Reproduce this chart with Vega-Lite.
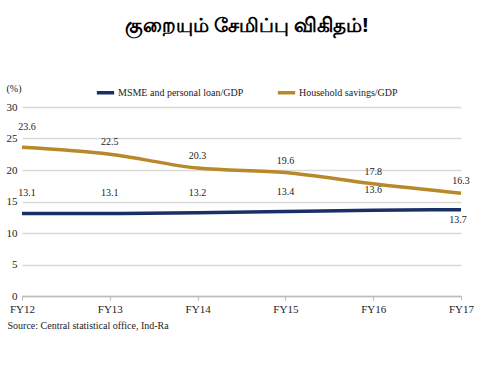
{
  "$schema": "https://vega.github.io/schema/vega-lite/v6.json",
  "width": 439,
  "height": 189,
  "autosize": {"type": "none"},
  "padding": {"left": 22, "top": 107, "right": 39, "bottom": 72},
  "background": "white",
  "title": {
    "text": "குறையும் சேமிப்பு விகிதம்!",
    "fontSize": 20,
    "fontWeight": "bold",
    "font": "Noto Sans",
    "color": "black",
    "anchor": "middle",
    "frame": "group",
    "offset": 46,
    "dx": 5
  },
  "config": {
    "view": {"stroke": null},
    "font": "Liberation Serif"
  },
  "data": {
    "values": [
      {"year": "FY12", "series": "MSME and personal loan/GDP", "value": 13.1},
      {"year": "FY13", "series": "MSME and personal loan/GDP", "value": 13.1},
      {"year": "FY14", "series": "MSME and personal loan/GDP", "value": 13.2},
      {"year": "FY15", "series": "MSME and personal loan/GDP", "value": 13.4},
      {"year": "FY16", "series": "MSME and personal loan/GDP", "value": 13.6},
      {"year": "FY17", "series": "MSME and personal loan/GDP", "value": 13.7},
      {"year": "FY12", "series": "Household savings/GDP", "value": 23.6},
      {"year": "FY13", "series": "Household savings/GDP", "value": 22.5},
      {"year": "FY14", "series": "Household savings/GDP", "value": 20.3},
      {"year": "FY15", "series": "Household savings/GDP", "value": 19.6},
      {"year": "FY16", "series": "Household savings/GDP", "value": 17.8},
      {"year": "FY17", "series": "Household savings/GDP", "value": 16.3}
    ]
  },
  "encoding": {
    "x": {
      "field": "year",
      "type": "ordinal",
      "scale": {"type": "point", "padding": 0},
      "axis": {
        "labelAngle": 0,
        "labelFont": "Liberation Serif",
        "labelFontSize": 11,
        "labelColor": "#222",
        "labelPadding": 3,
        "tickSize": 4,
        "tickColor": "#bbbbbb",
        "domainColor": "#bbbbbb",
        "domainWidth": 1.5,
        "grid": false,
        "title": "Source: Central statistical office, Ind-Ra",
        "titleFont": "Liberation Serif",
        "titleFontWeight": "normal",
        "titleFontSize": 10,
        "titleColor": "#222",
        "titleAlign": "left",
        "titleAnchor": "start",
        "titleBaseline": "middle",
        "titleX": -15,
        "titleY": 29
      }
    },
    "y": {
      "field": "value",
      "type": "quantitative",
      "scale": {"domain": [0, 30]},
      "axis": {
        "values": [0, 5, 10, 15, 20, 25, 30],
        "labelFont": "Liberation Serif",
        "labelFontSize": 11,
        "labelColor": "#222",
        "labelPadding": 5,
        "ticks": false,
        "domain": false,
        "gridColor": "#d9d9d9",
        "gridWidth": 1.5,
        "title": "(%)",
        "titleFont": "Liberation Serif",
        "titleFontWeight": "normal",
        "titleFontSize": 10,
        "titleColor": "#222",
        "titleAngle": 0,
        "titleAlign": "left",
        "titleBaseline": "middle",
        "titleX": -16,
        "titleY": -19
      }
    },
    "color": {
      "field": "series",
      "type": "nominal",
      "scale": {
        "domain": ["MSME and personal loan/GDP", "Household savings/GDP"],
        "range": ["#1a2f66", "#b7892a"]
      },
      "legend": {
        "title": null,
        "orient": "none",
        "legendX": 73,
        "legendY": -25,
        "direction": "horizontal",
        "symbolType": "stroke",
        "symbolStrokeWidth": 3.5,
        "symbolSize": 300,
        "labelFont": "Liberation Serif",
        "labelFontSize": 10,
        "labelColor": "#222",
        "labelLimit": 300,
        "columnPadding": 26,
        "labelOffset": 2
      }
    }
  },
  "layer": [
    {"mark": {"type": "line", "interpolate": "monotone", "strokeWidth": 3.5}},
    {
      "transform": [{"filter": "datum.series == 'Household savings/GDP' && datum.year != 'FY12'"}],
      "mark": {"type": "text", "dy": -12, "fontSize": 10, "font": "Liberation Serif"},
      "encoding": {
        "text": {"field": "value", "type": "quantitative", "format": ".1f"},
        "color": {"value": "#222"}
      }
    },
    {
      "transform": [{"filter": "datum.year == 'FY12'"}],
      "mark": {"type": "text", "dy": -20, "dx": 5, "fontSize": 10, "font": "Liberation Serif"},
      "encoding": {
        "text": {"field": "value", "type": "quantitative", "format": ".1f"},
        "color": {"value": "#222"}
      }
    },
    {
      "transform": [{"filter": "datum.series == 'MSME and personal loan/GDP' && datum.year != 'FY17' && datum.year != 'FY12'"}],
      "mark": {"type": "text", "dy": -20, "fontSize": 10, "font": "Liberation Serif"},
      "encoding": {
        "text": {"field": "value", "type": "quantitative", "format": ".1f"},
        "color": {"value": "#222"}
      }
    },
    {
      "transform": [{"filter": "datum.series == 'MSME and personal loan/GDP' && datum.year == 'FY17'"}],
      "mark": {"type": "text", "dy": 10, "dx": -3, "fontSize": 10, "font": "Liberation Serif"},
      "encoding": {
        "text": {"field": "value", "type": "quantitative", "format": ".1f"},
        "color": {"value": "#222"}
      }
    }
  ]
}
